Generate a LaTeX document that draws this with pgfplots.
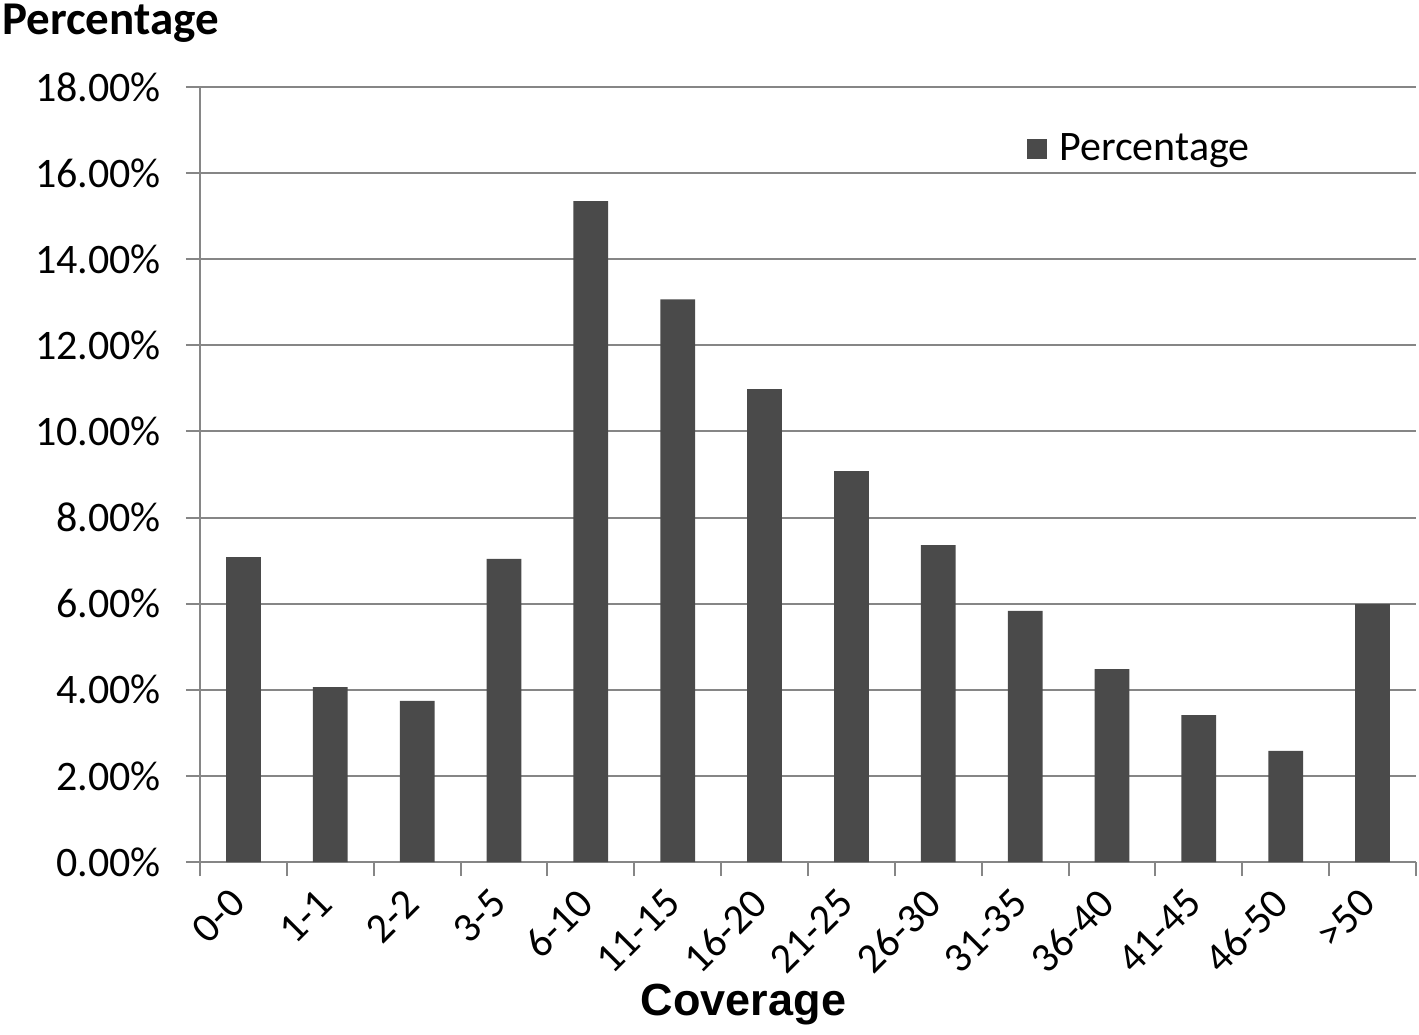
\documentclass[border=0pt]{standalone}
\usepackage{pgfplots}
\pgfplotsset{compat=1.18}
\usepackage{fontspec}
\setmainfont{Carlito}
\newfontfamily\arialfont{Liberation Sans}
\definecolor{barc}{RGB}{74,74,74}
\definecolor{gridc}{RGB}{134,134,134}
\begin{document}
\begin{tikzpicture}
\path[use as bounding box] (-100pt,-86pt) rectangle (609.5pt,431pt);
\begin{axis}[
  scale only axis,
  width=608pt, height=387.5pt,
  xmin=-0.5, xmax=13.5,
  ymin=0, ymax=18,
  axis lines*=left,
  axis line style={gridc, line width=1pt},
  ytick={0,2,...,18},
  yticklabels={0.00\%,2.00\%,4.00\%,6.00\%,8.00\%,10.00\%,12.00\%,14.00\%,16.00\%,18.00\%},
  ymajorgrids,
  grid style={gridc, line width=1pt},
  tick align=outside,
  major tick length=7pt,
  minor tick length=7pt,
  tick style={gridc, line width=1pt},
  xtick={0,...,13},
  xticklabels={0-0,1-1,2-2,3-5,6-10,11-15,16-20,21-25,26-30,31-35,36-40,41-45,46-50,>50},
  x tick style={draw=none},
  minor xtick={-0.5,0.5,...,13.5},
  minor x tick style={gridc, line width=1pt, draw=gridc},
  ticklabel style={font=\fontsize{21}{25}\selectfont, text=black},
  yticklabel style={xshift=-9pt},
  xticklabel style={xshift=0pt, yshift=-7.7pt, rotate=45, anchor=east},
  /pgf/number format/assume math mode=true,
  legend style={at={(rel axis cs:0.68,0.92)}, anchor=west, draw=none, fill=none,
     font=\fontsize{21}{25}\selectfont, inner sep=0pt, nodes={inner xsep=6pt}},
  legend image code/.code={\fill[barc] (0pt,-5pt) rectangle (10pt,5pt);},
]
\addplot[ybar, bar width=0.4, fill=barc, draw=none] coordinates {
(0,7.08) (1,4.06) (2,3.74) (3,7.04) (4,15.35) (5,13.07) (6,10.98)
(7,9.08) (8,7.36) (9,5.83) (10,4.48) (11,3.41) (12,2.58) (13,5.99)};
\addlegendentry{Percentage}
\end{axis}
\node[anchor=base west, inner sep=0pt, font=\fontsize{23.5}{28}\selectfont\bfseries] at (-99pt,413.5pt) {Percentage};
\node[anchor=base, inner sep=0pt, font=\arialfont\fontsize{22.5}{27}\selectfont\bfseries] at (271.75pt,-76.5pt) {Coverage};
\end{tikzpicture}
\end{document}
